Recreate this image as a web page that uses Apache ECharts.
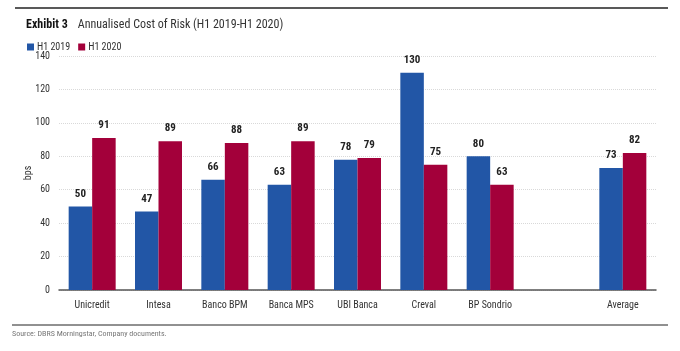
<!DOCTYPE html>
<html>
<head>
<meta charset="utf-8">
<script src="https://cdn.jsdelivr.net/npm/echarts@6/dist/echarts.min.js"></script>
<style>
  html, body { margin:0; padding:0; background:#fff; }
  #chart { width:680px; height:351px; }
</style>
</head>
<body>
<div id="chart"></div>
<script>
  var categories = ['Unicredit', 'Intesa', 'Banco BPM', 'Banca MPS', 'UBI Banca', 'Creval', 'BP Sondrio', '', 'Average'];
  var h12019 = [50, 47, 66, 63, 78, 130, 80, '-', 73];
  var h12020 = [91, 89, 88, 89, 79, 75, 63, '-', 82];
  var yTicks = [0, 20, 40, 60, 80, 100, 120, 140];

  var font = '"Liberation Sans Narrow", "Roboto Condensed", "Liberation Sans", sans-serif';
  var myChart = echarts.init(document.getElementById('chart'));

  // data labels
  var lbl = { show: true, position: 'top', distance: 7, color: '#222', fontWeight: 'bold', fontSize: 11, fontFamily: font };

  myChart.setOption({
    animation: false,
    title: {
      left: 21, top: 11,
      text: '{b|Exhibit 3}  {n|Annualised Cost of Risk (H1 2019-H1 2020)}',
      textStyle: {
        fontWeight: 'normal',
        rich: {
          b: { fontFamily: font, fontWeight: 'bold', fontSize: 12, color: '#111' },
          n: { fontFamily: font, fontWeight: 'normal', fontSize: 12, color: '#333' }
        }
      }
    },
    legend: {
      left: 22, top: 37,
      itemWidth: 7, itemHeight: 7, itemGap: 8,
      icon: 'rect',
      textStyle: { fontFamily: font, fontSize: 10, color: '#333', padding: [0, 0, 0, -2] },
      data: ['H1 2019', 'H1 2020']
    },
    grid: { left: 59, right: 24, top: 56, bottom: 61 },
    xAxis: {
      type: 'category',
      data: categories,
      axisTick: { show: false },
      axisLine: { lineStyle: { color: '#555', width: 1.5 } },
      axisLabel: { fontFamily: font, fontSize: 10, color: '#333', margin: 10, interval: 0 }
    },
    yAxis: {
      type: 'value',
      min: 0, max: 140, interval: 20,
      name: 'bps',
      nameLocation: 'middle',
      nameGap: 26,
      nameMoveOverlap: false,
      nameTextStyle: { fontFamily: font, fontSize: 10, color: '#333' },
      axisLabel: {
        fontFamily: font, fontSize: 10, color: '#333', margin: 9,
        formatter: function (v) { return yTicks.indexOf(v) >= 0 ? v : ''; }
      },
      splitLine: { lineStyle: { color: '#d9d9d9', type: 'dotted', width: 1 } }
    },
    graphic: [
      { type: 'line', shape: { x1: 15, y1: 8, x2: 668, y2: 8 }, style: { stroke: '#222', lineWidth: 1.5 } },
      { type: 'line', shape: { x1: 12, y1: 325, x2: 668, y2: 325 }, style: { stroke: '#222', lineWidth: 1 } },
      { type: 'text', left: 12, top: 330, style: { text: 'Source: DBRS Morningstar, Company documents.', font: '8px ' + font, fill: '#777' } }
    ],
    series: [
      { name: 'H1 2019', type: 'bar', data: h12019, barWidth: 23.5, barGap: '0%', itemStyle: { color: '#2256a6' }, label: lbl },
      { name: 'H1 2020', type: 'bar', data: h12020, barWidth: 23.5, barGap: '0%', itemStyle: { color: '#a3003a' }, label: lbl }
    ]
  });
</script>
</body>
</html>
